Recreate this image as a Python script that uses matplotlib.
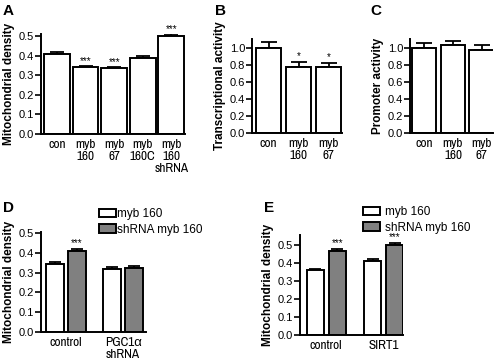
import numpy as np
import matplotlib
matplotlib.use("Agg")
import matplotlib.pyplot as plt

plt.rcParams['font.family'] = ['Liberation Sans', 'DejaVu Sans']
NARROW = ['Archivo Narrow', 'Liberation Sans', 'DejaVu Sans']

# panel A
a_labels = ["con", "myb\n160", "myb\n67", "myb\n160C", "myb\n160\nshRNA"]
a_vals = [0.41, 0.34, 0.335, 0.39, 0.50]
a_err = [0.008, 0.005, 0.005, 0.010, 0.009]
a_sig = ["", "***", "***", "", "***"]

# panel B
b_labels = ["con", "myb\n160", "myb\n67"]
b_vals = [1.0, 0.77, 0.77]
b_err = [0.06, 0.06, 0.05]
b_sig = ["", "*", "*"]

# panel C
c_labels = ["con", "myb\n160", "myb\n67"]
c_vals = [1.0, 1.03, 0.97]
c_err = [0.05, 0.05, 0.06]

# panel D
d_groups = ["control", "PGC1\u03b1\nshRNA"]
d_myb = [0.345, 0.318]
d_myb_err = [0.009, 0.009]
d_sh = [0.41, 0.322]
d_sh_err = [0.011, 0.009]
d_sig = ["***", ""]

# panel E
e_groups = ["control", "SIRT1"]
e_myb = [0.36, 0.41]
e_myb_err = [0.008, 0.010]
e_sh = [0.468, 0.50]
e_sh_err = [0.010, 0.012]
e_sig = ["***", "***"]

W, H = 498, 364
LW = 1.4
fig = plt.figure(figsize=(W / 100, H / 100), dpi=100)


def px_axes(x0, x1, ytop, ybot):
    return fig.add_axes([x0 / W, 1 - ybot / H, (x1 - x0) / W, (ybot - ytop) / H])


def style(ax, xlabels, ticks):
    for s in ['top', 'right']:
        ax.spines[s].set_visible(False)
    for s in ['left', 'bottom']:
        ax.spines[s].set_linewidth(LW)
    ax.tick_params(axis='y', length=4, width=1.2, pad=1)
    ax.tick_params(axis='x', length=0, pad=3.5)
    ax.set_yticks(ticks)
    ax.set_yticklabels([f"{t:.1f}" for t in ticks], fontsize=8)
    ax.set_xticklabels(xlabels, fontsize=9.5, family=NARROW, linespacing=1.1)


def simple_bars(ax, labels, vals, err, sig, width, ylim, ticks, star_off, cap):
    x = np.arange(len(vals))
    ax.bar(x, vals, width=width, color='white', edgecolor='black', linewidth=LW, zorder=2)
    ax.errorbar(x, vals, yerr=[np.zeros(len(vals)), err], fmt='none', ecolor='black',
                elinewidth=1.3, capsize=cap, capthick=1.3, zorder=1)
    for i, s in enumerate(sig):
        if s:
            ax.text(x[i], vals[i] + err[i] + star_off, s, ha='center', va='bottom', fontsize=7)
    ax.set_xticks(x)
    ax.set_ylim(*ylim)
    style(ax, labels, ticks)


# A
ax = px_axes(41, 185, 34, 134)
simple_bars(ax, a_labels, a_vals, a_err, a_sig, 0.9, (0, 0.51), np.arange(0, 0.51, 0.1), 0.002, 5)
ax.set_xlim(-0.56, 4.48)
ax.set_ylabel("Mitochondrial density", fontsize=8.5, fontweight='bold', labelpad=3)

# B
ax = px_axes(252, 342, 39, 133)
simple_bars(ax, b_labels, b_vals, b_err, b_sig, 0.86, (0, 1.1), np.arange(0, 1.01, 0.2), 0.01, 6)
ax.set_xlim(-0.55, 2.45)
ax.set_ylabel("Transcriptional activity", fontsize=8.5, fontweight='bold', labelpad=3)

# C
ax = px_axes(410, 493, 39, 133)
simple_bars(ax, c_labels, c_vals, c_err, ["", "", ""], 0.85, (0, 1.1), np.arange(0, 1.01, 0.2), 0.01, 6)
ax.set_xlim(-0.5, 2.4)
ax.set_ylabel("Promoter activity", fontsize=8.5, fontweight='bold', labelpad=3)


def grouped(ax, groups, v1, e1, v2, e2, sig, width, off, ylim):
    x = np.arange(len(groups))
    b1 = ax.bar(x - off, v1, width=width, color='white', edgecolor='black', linewidth=LW,
                zorder=2, label="myb 160")
    b2 = ax.bar(x + off, v2, width=width, color='#808080', edgecolor='black', linewidth=LW,
                zorder=2, label="shRNA myb 160")
    ax.errorbar(x - off, v1, yerr=[np.zeros(len(v1)), e1], fmt='none', ecolor='black',
                elinewidth=1.3, capsize=4, capthick=1.3, zorder=1)
    ax.errorbar(x + off, v2, yerr=[np.zeros(len(v2)), e2], fmt='none', ecolor='black',
                elinewidth=1.3, capsize=4, capthick=1.3, zorder=1)
    for i, s in enumerate(sig):
        if s:
            ax.text(x[i] + off, v2[i] + e2[i] + 0.003, s, ha='center', va='bottom', fontsize=7)
    ax.set_xticks(x)
    ax.set_ylim(*ylim)
    style(ax, groups, np.arange(0, 0.51, 0.1))
    return b1, b2


# D
ax = px_axes(41, 146, 232, 332)
b1, b2 = grouped(ax, d_groups, d_myb, d_myb_err, d_sh, d_sh_err, d_sig, 0.31, 0.19, (0, 0.505))
ax.set_xlim(-0.44, 1.4)
ax.set_ylabel("Mitochondrial density", fontsize=8.5, fontweight='bold', labelpad=3)
fig.legend([b1, b2], ["myb 160", "shRNA myb 160"], loc='upper left',
           bbox_to_anchor=(99 / W, 1 - 208 / H), frameon=False, fontsize=8.5,
           handlelength=1.45, handleheight=0.75, handletextpad=0.1, labelspacing=0.3,
           borderpad=0, borderaxespad=0)

# E
ax = px_axes(300, 403, 235, 335)
b1, b2 = grouped(ax, e_groups, e_myb, e_myb_err, e_sh, e_sh_err, e_sig, 0.3, 0.19, (0, 0.555))
ax.set_xlim(-0.456, 1.335)
ax.set_ylabel("Mitochondrial density", fontsize=8.5, fontweight='bold', labelpad=3)
fig.legend([b1, b2], ["myb 160", "shRNA myb 160"], loc='upper left',
           bbox_to_anchor=(363 / W, 1 - 206 / H), frameon=False, fontsize=8.5,
           handlelength=1.45, handleheight=0.75, handletextpad=0.4, labelspacing=0.3,
           borderpad=0, borderaxespad=0)

# panel letters
for letter, px, py in [("A", 3, 4), ("B", 215, 4), ("C", 370, 4), ("D", 3, 201), ("E", 264, 201)]:
    fig.text(px / W, 1 - py / H, letter, fontsize=11, fontweight='bold', ha='left', va='top')

fig.savefig("out.png", dpi=100)
